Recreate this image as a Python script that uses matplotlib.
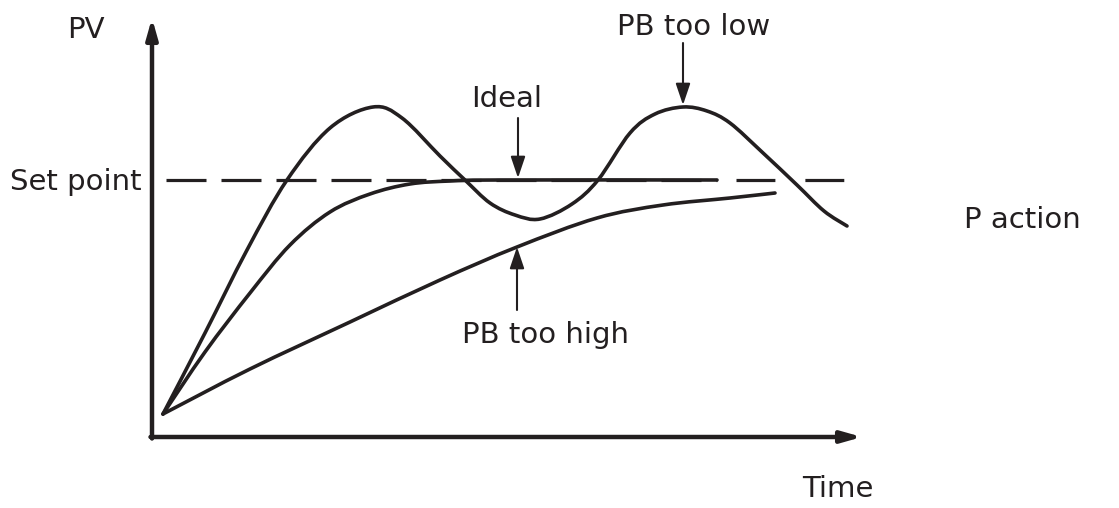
import matplotlib
matplotlib.use("Agg")
import matplotlib.pyplot as plt
from matplotlib.path import Path
from matplotlib.patches import PathPatch
import numpy as np

# 坐标单位: 时间 / PV (原点在两轴交点)
setpoint = 257

# PB too low (振荡)
low_t = [11, 53, 95, 135, 178, 221, 250, 288, 313, 338, 363, 388, 420, 446,
         478, 503, 531, 555, 578, 610, 645, 672, 695]
low_pv = [23, 104, 187, 257, 309, 330, 319, 281, 257, 234, 222, 218, 233, 257,
          304, 323, 330, 326, 314, 285, 252, 226, 211]

# Ideal
ideal_t = [11, 53, 98, 138, 178, 218, 258, 298, 348, 565]
ideal_pv = [23, 85, 144, 192, 225, 243, 253, 256, 257, 257]

# PB too high
high_t = [11, 98, 198, 288, 365, 445, 511, 578, 623]
high_pv = [23, 68, 115, 157, 190, 219, 232, 239, 244]

# 注释: 文字, 文字x, 文字基线y, 箭头x, 箭头起点y, 箭头终点y
labels = ["Ideal", "PB too low", "PB too high"]
label_x = [355, 542, 393]
label_y = [330, 402, 94]
arrow_x = [366, 531, 365]
arrow_from = [319, 394, 127]
arrow_to = [259, 332, 190]

ink = "#231f20"
plt.rcParams["font.family"] = ["DejaVu Sans"]
plt.rcParams["lines.scale_dashes"] = False


def smooth_path(xs, ys):
    # 用三次贝塞尔把读出的点连成平滑曲线 (Catmull-Rom 控制点)
    p = np.column_stack([xs, ys]).astype(float)
    ext = np.vstack([p[0], p, p[-1]])
    verts = [p[0]]
    codes = [Path.MOVETO]
    for i in range(1, len(ext) - 2):
        p0, p1, p2, p3 = ext[i - 1], ext[i], ext[i + 1], ext[i + 2]
        verts += [p1 + (p2 - p0) / 6, p2 - (p3 - p1) / 6, p2]
        codes += [Path.CURVE4] * 3
    return Path(verts, codes)


fig = plt.figure(figsize=(11.19, 5.08), dpi=100)
ax = fig.add_axes([0, 0, 1, 1])
ax.set_xlim(-152, 967)
ax.set_ylim(-71, 437)
ax.axis("off")

# 坐标轴箭头
axis_style = dict(arrowstyle="-|>,head_length=0.6,head_width=0.17", lw=3.2,
                  color=ink, shrinkA=0, shrinkB=0, mutation_scale=20)
ax.annotate("", xy=(0, 419), xytext=(0, -1.5), arrowprops=axis_style)
ax.annotate("", xy=(710, 0), xytext=(-1.5, 0), arrowprops=axis_style)

# 设定值虚线
ax.plot([14, 565], [setpoint, setpoint], color=ink, lw=2.3, dashes=(28.8, 10.8))
ax.plot([584, 693], [setpoint, setpoint], color=ink, lw=2.3, dashes=(28, 21.6))

# 三条响应曲线
for t, pv in [(low_t, low_pv), (ideal_t, ideal_pv), (high_t, high_pv)]:
    ax.add_patch(PathPatch(smooth_path(t, pv), fill=False, edgecolor=ink, lw=2.6,
                           capstyle="round", joinstyle="round"))

# 注释箭头和文字
for txt, tx, ty, axx, a0, a1 in zip(labels, label_x, label_y, arrow_x, arrow_from, arrow_to):
    ax.annotate("", xy=(axx, a1), xytext=(axx, a0),
                arrowprops=dict(arrowstyle="-|>,head_length=0.65,head_width=0.22",
                                lw=1.5, color=ink, shrinkA=0, shrinkB=0,
                                mutation_scale=20))
    ax.text(tx, ty, txt, ha="center", va="baseline", fontsize=21, color=ink)

ax.text(-85, 399, "PV", ha="left", va="baseline", fontsize=21, color=ink)
ax.text(-142, 247, "Set point", ha="left", va="baseline", fontsize=21, color=ink)
ax.text(812, 209, "P action", ha="left", va="baseline", fontsize=21, color=ink)
ax.text(650, -60, "Time", ha="left", va="baseline", fontsize=21, color=ink)

fig.savefig("out.png", dpi=100)
